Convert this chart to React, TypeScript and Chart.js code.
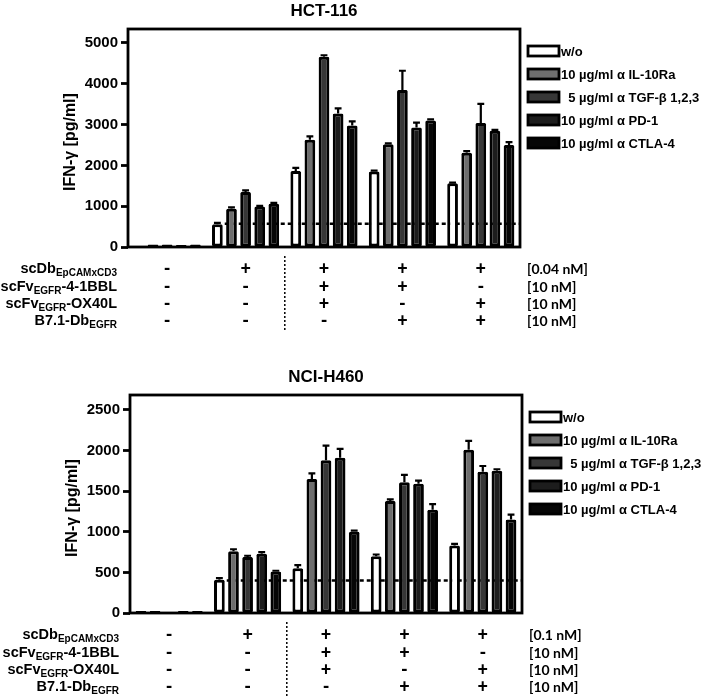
import React, { useEffect, useRef } from "react";
import { Chart, registerables } from "chart.js";
Chart.register(...registerables);

// ---------- data ----------
const categories = ["ctrl", "scDb", "scDb+41BBL+OX40L", "scDb+41BBL+B7", "scDb+OX40L+B7"];
const seriesNames = ["w/o", "10 µg/ml α IL-10Ra", "  5 µg/ml α TGF-β 1,2,3", "10 µg/ml α PD-1", "10 µg/ml α CTLA-4"];
const seriesColors = ["#ffffff", "#6e6e6e", "#373737", "#1d1d1d", "#060606"];

// HCT-116
const hctWo = [0, 560, 1860, 1850, 1560];
const hctIL10 = [60, 940, 2630, 2520, 2310];
const hctTGF = [60, 1350, 4660, 3850, 3040];
const hctPD1 = [50, 990, 3270, 2930, 2850];
const hctCTLA4 = [60, 1060, 2980, 3100, 2500];
const hctWoErr = [0, 30, 80, 20, 20];
const hctIL10Err = [0, 30, 80, 20, 40];
const hctTGFErr = [0, 40, 40, 470, 470];
const hctPD1Err = [0, 20, 130, 120, 20];
const hctCTLA4Err = [0, 20, 100, 30, 70];
const hctBaseline = 570;
const hctTicks = [0, 1000, 2000, 3000, 4000, 5000];
const hctConc = ["[0.04 nM]", "[10 nM]", "[10 nM]", "[10 nM]"];

// NCI-H460
const nciWo = [25, 410, 550, 700, 830];
const nciIL10 = [25, 760, 1650, 1380, 2010];
const nciTGF = [0, 690, 1880, 1610, 1740];
const nciPD1 = [25, 730, 1910, 1590, 1750];
const nciCTLA4 = [25, 510, 1000, 1270, 1150];
const nciWoErr = [0, 20, 40, 20, 20];
const nciIL10Err = [0, 25, 70, 20, 110];
const nciTGFErr = [0, 15, 180, 90, 70];
const nciPD1Err = [0, 20, 110, 40, 20];
const nciCTLA4Err = [0, 10, 15, 70, 60];
const nciBaseline = 400;
const nciTicks = [0, 500, 1000, 1500, 2000, 2500];
const nciConc = ["[0.1 nM]", "[10 nM]", "[10 nM]", "[10 nM]"];

// treatment table
const rowMain = ["scDb", "scFv", "scFv", "B7.1-Db"];
const rowSub = ["EpCAMxCD3", "EGFR", "EGFR", "EGFR"];
const rowTail = ["", "-4-1BBL", "-OX40L", ""];
const signScDb = ["-", "+", "+", "+", "+"];
const sign41BBL = ["-", "-", "+", "+", "-"];
const signOX40L = ["-", "-", "+", "-", "+"];
const signB71 = ["-", "-", "-", "+", "+"];

const FONT = "'Liberation Sans', Arial, sans-serif";

type PanelProps = {
  title: string;
  values: number[][];
  errors: number[][];
  baseline: number;
  ticks: number[];
  yMax: number;
  conc: string[];
  area: { left: number; right: number; top: number; bottom: number };
  height: number;
  top: number;
};

function Panel(p: PanelProps) {
  const ref = useRef<HTMLCanvasElement | null>(null);
  useEffect(() => {
    if (!ref.current) return;
    const signs = [signScDb, sign41BBL, signOX40L, signB71];
    const overlay = {
      id: "overlay",
      beforeDatasetsDraw(chart: any) {
        const { ctx, chartArea: ca, scales } = chart;
        const meta0 = chart.getDatasetMeta(0);
        const b = meta0.data[1];
        const yb = scales.y.getPixelForValue(p.baseline);
        ctx.save();
        ctx.strokeStyle = "#000";
        ctx.lineWidth = 2.5;
        ctx.setLineDash([4, 3]);
        ctx.beginPath();
        ctx.moveTo(b.x + b.width / 2 + 2, yb);
        ctx.lineTo(ca.right, yb);
        ctx.stroke();
        ctx.restore();
      },
      afterDatasetsDraw(chart: any) {
        const { ctx, scales } = chart;
        ctx.save();
        ctx.strokeStyle = "#000";
        ctx.lineWidth = 2.2;
        chart.data.datasets.forEach((ds: any, di: number) => {
          const meta = chart.getDatasetMeta(di);
          meta.data.forEach((bar: any, i: number) => {
            const e = p.errors[di][i];
            if (!e) return;
            const v = ds.data[i];
            const y0 = scales.y.getPixelForValue(v);
            const y1 = scales.y.getPixelForValue(v + e);
            const hw = bar.width * 0.32;
            ctx.beginPath();
            ctx.moveTo(bar.x, y0);
            ctx.lineTo(bar.x, y1);
            ctx.moveTo(bar.x - hw, y1);
            ctx.lineTo(bar.x + hw, y1);
            ctx.stroke();
          });
        });
        ctx.restore();
      },
      afterDraw(chart: any) {
        const { ctx, chartArea: ca, scales } = chart;
        ctx.save();
        // frame
        ctx.strokeStyle = "#000";
        ctx.lineWidth = 2.8;
        ctx.strokeRect(ca.left, ca.top, ca.right - ca.left, ca.bottom - ca.top);
        // title
        ctx.fillStyle = "#000";
        ctx.font = `bold 17px ${FONT}`;
        ctx.textAlign = "center";
        ctx.textBaseline = "middle";
        ctx.fillText(p.title, (ca.left + ca.right) / 2, ca.top - 18);
        // y title
        ctx.save();
        ctx.translate(ca.left - 57, (ca.top + ca.bottom) / 2 + 4);
        ctx.rotate(-Math.PI / 2);
        ctx.font = `bold 16px ${FONT}`;
        ctx.fillText("IFN-γ [pg/ml]", 0, 0);
        ctx.restore();
        // legend
        for (let i = 0; i < seriesNames.length; i++) {
          const y = ca.top + 22 + 23 * i;
          const bx = ca.right + 8;
          ctx.fillStyle = seriesColors[i];
          ctx.fillRect(bx, y - 5, 31, 10);
          ctx.strokeStyle = "#000";
          ctx.lineWidth = 2.8;
          ctx.strokeRect(bx, y - 5, 31, 10);
          ctx.fillStyle = "#000";
          ctx.font = `bold 13px ${FONT}`;
          ctx.textAlign = "left";
          ctx.textBaseline = "middle";
          ctx.fillText(seriesNames[i], bx + 33, y + 1);
        }
        // table
        const rowY = [22, 40, 57, 74];
        for (let r = 0; r < 4; r++) {
          const y = ca.bottom + rowY[r];
          ctx.textBaseline = "middle";
          ctx.textAlign = "left";
          ctx.font = `bold 14.5px ${FONT}`;
          const wMain = ctx.measureText(rowMain[r]).width;
          const wTail = ctx.measureText(rowTail[r]).width;
          ctx.font = `bold 10px ${FONT}`;
          const wSub = ctx.measureText(rowSub[r]).width;
          let x = ca.left - 11 - (wMain + wSub + wTail);
          ctx.font = `bold 14.5px ${FONT}`;
          ctx.fillText(rowMain[r], x, y);
          x += wMain;
          ctx.font = `bold 10px ${FONT}`;
          ctx.fillText(rowSub[r], x, y + 4);
          x += wSub;
          ctx.font = `bold 14.5px ${FONT}`;
          ctx.fillText(rowTail[r], x, y);
          // signs
          ctx.textAlign = "center";
          ctx.font = `900 18px Lato, sans-serif`;
          for (let c = 0; c < categories.length; c++) {
            ctx.fillText(signs[r][c], scales.x.getPixelForValue(c), y);
          }
          ctx.textAlign = "left";
          ctx.font = `bold 14px Lato, sans-serif`;
          ctx.fillText(p.conc[r], ca.right + 7, y);
        }
        // vertical separator
        const sx = (scales.x.getPixelForValue(1) + scales.x.getPixelForValue(2)) / 2;
        ctx.lineWidth = 1.5;
        ctx.setLineDash([2, 2]);
        ctx.beginPath();
        ctx.moveTo(sx, ca.bottom + 9);
        ctx.lineTo(sx, ca.bottom + 83);
        ctx.stroke();
        ctx.restore();
      },
    };

    const chart = new Chart(ref.current, {
      type: "bar",
      data: {
        labels: categories,
        datasets: p.values.map((vals, i) => ({
          label: seriesNames[i],
          data: vals,
          backgroundColor: seriesColors[i],
          borderColor: "#000",
          borderWidth: 3,
          borderSkipped: false,
          borderRadius: 1.5,
          categoryPercentage: 0.9,
          barPercentage: 0.76,
        })),
      },
      options: {
        responsive: false,
        animation: false,
        devicePixelRatio: 1,
        layout: {
          padding: {
            left: 0,
            top: p.area.top,
            right: 709 - p.area.right,
            bottom: p.height - p.area.bottom,
          },
        },
        plugins: { legend: { display: false }, title: { display: false }, tooltip: { enabled: false } },
        scales: {
          x: { type: "category", display: false },
          y: {
            min: 0,
            max: p.yMax,
            afterFit: (s: any) => {
              s.width = p.area.left;
            },
            afterBuildTicks: (s: any) => {
              s.ticks = p.ticks.map((v) => ({ value: v }));
            },
            border: { display: false },
            grid: {
              drawOnChartArea: false,
              drawTicks: true,
              tickLength: 7,
              tickWidth: 2.8,
              tickColor: "#000",
            },
            ticks: {
              color: "#000",
              padding: 3,
              font: { family: FONT, weight: "bold", size: 15 },
              callback: (v: any) => String(v),
            },
          },
        },
      },
      plugins: [overlay],
    } as any);
    return () => chart.destroy();
  }, []);
  return (
    <canvas
      ref={ref}
      width={709}
      height={p.height}
      style={{ position: "absolute", left: 0, top: p.top, width: 709, height: p.height, display: "block" }}
    />
  );
}

export default function App() {
  return (
    <div style={{ position: "absolute", left: 0, top: 0, width: 709, height: 697, background: "#fff", overflow: "hidden" }}>
      <Panel
        title="HCT-116"
        values={[hctWo, hctIL10, hctTGF, hctPD1, hctCTLA4]}
        errors={[hctWoErr, hctIL10Err, hctTGFErr, hctPD1Err, hctCTLA4Err]}
        baseline={hctBaseline}
        ticks={hctTicks}
        yMax={5343}
        conc={hctConc}
        area={{ left: 128, right: 520, top: 29, bottom: 247 }}
        height={348}
        top={0}
      />
      <Panel
        title="NCI-H460"
        values={[nciWo, nciIL10, nciTGF, nciPD1, nciCTLA4]}
        errors={[nciWoErr, nciIL10Err, nciTGFErr, nciPD1Err, nciCTLA4Err]}
        baseline={nciBaseline}
        ticks={nciTicks}
        yMax={2684}
        conc={nciConc}
        area={{ left: 130, right: 522, top: 47, bottom: 265 }}
        height={349}
        top={348}
      />
    </div>
  );
}
